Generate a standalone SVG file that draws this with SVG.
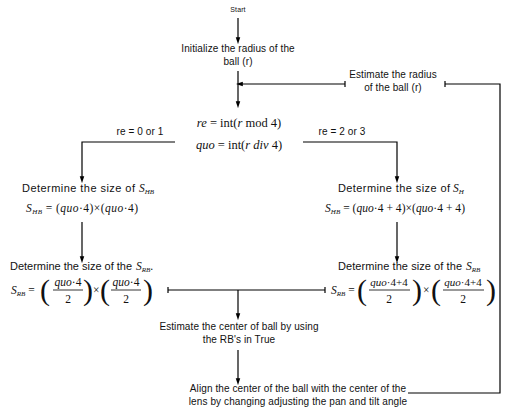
<svg xmlns="http://www.w3.org/2000/svg" width="505" height="414" viewBox="0 0 505 414">
<defs>
<marker id="arr" markerUnits="userSpaceOnUse" markerWidth="7" markerHeight="11" refX="6" refY="3.5" orient="auto" viewBox="0 0 11 7">
<path d="M0,0 L11,3.5 L0,7 Z" fill="#000"/>
</marker>
</defs>
<style>
.t{font-family:"Liberation Sans",Arial,sans-serif;font-size:10px;letter-spacing:0.1px;fill:#111;text-anchor:middle}
.h{font-family:"Liberation Sans",Arial,sans-serif;font-size:11px;fill:#111}
.m{font-family:"Liberation Serif","Times New Roman",serif;font-size:11.5px;fill:#111}
.i{font-style:italic}
.sub{font-size:7px;font-style:italic}
.p{font-family:"Liberation Serif","Times New Roman",serif;font-size:30px;fill:#111}
.ln{stroke:#000;stroke-width:1.2;fill:none}
.fr{stroke:#000;stroke-width:0.8}
.a{marker-end:url(#arr)}
</style>
<rect width="505" height="414" fill="#fff"/>

<g id="start"><text class="t" x="238" y="12" style="font-size:7px">Start</text></g>
<g id="init"><text class="t" x="238" y="52">Initialize the radius of the</text><text class="t" x="238" y="65">ball (r)</text></g>
<g id="estimate-radius"><text class="t" x="393" y="78">Estimate the radius</text><text class="t" x="393" y="91">of the ball (r)</text></g>
<g id="mod">
<text class="m" x="239" y="127" text-anchor="middle" style="font-size:12.5px"><tspan class="i">re</tspan> = int(<tspan class="i">r</tspan> mod 4)</text>
<text class="m" x="239" y="149" text-anchor="middle" style="font-size:12.5px"><tspan class="i">quo</tspan> = int(<tspan class="i">r div</tspan> 4)</text>
</g>
<g id="label-left"><text class="t" x="140" y="135">re = 0 or 1</text></g>
<g id="label-right"><text class="t" x="342" y="135">re = 2 or 3</text></g>

<g id="hb-left">
<text class="h" x="22" y="192" textLength="113" lengthAdjust="spacing">Determine the size of</text>
<text class="m" x="139" y="192"><tspan class="i">S</tspan><tspan class="sub" dy="2">HB</tspan></text>
<text class="m" x="26" y="212" textLength="112" lengthAdjust="spacing"><tspan class="i">S</tspan><tspan class="sub" dy="2">HB</tspan><tspan dy="-2"> = (</tspan><tspan class="i">quo</tspan>·4)×(<tspan class="i">quo</tspan>·4)</text>
</g>
<g id="hb-right">
<text class="h" x="338" y="192" textLength="112" lengthAdjust="spacing">Determine the size of</text>
<text class="m" x="453" y="192"><tspan class="i">S</tspan><tspan class="sub" dy="2">H</tspan></text>
<text class="m" x="325" y="212" textLength="140" lengthAdjust="spacing"><tspan class="i">S</tspan><tspan class="sub" dy="2">HB</tspan><tspan dy="-2"> = (</tspan><tspan class="i">quo</tspan>·4 + 4)×(<tspan class="i">quo</tspan>·4 + 4)</text>
</g>

<g id="rb-left">
<text class="h" x="10" y="270" textLength="122" lengthAdjust="spacing">Determine the size of the</text>
<text class="m" x="136" y="270"><tspan class="i">S</tspan><tspan class="sub" dy="2">RB</tspan><tspan dy="-2">.</tspan></text>
<text class="m" x="11" y="294"><tspan class="i">S</tspan><tspan class="sub" dy="2">RB</tspan><tspan dy="-2"> =</tspan></text>
<text class="p" x="40" y="300">(</text>
<text class="m" x="68" y="286" text-anchor="middle"><tspan class="i">quo</tspan>·4</text>
<line class="fr" x1="53" y1="290" x2="83" y2="290"/>
<text class="m" x="68" y="303" text-anchor="middle">2</text>
<text class="p" x="83" y="300">)</text>
<text class="m" x="93" y="294">×</text>
<text class="p" x="100" y="300">(</text>
<text class="m" x="126" y="286" text-anchor="middle"><tspan class="i">quo</tspan>·4</text>
<line class="fr" x1="111" y1="290" x2="141" y2="290"/>
<text class="m" x="126" y="303" text-anchor="middle">2</text>
<text class="p" x="143" y="300">)</text>
</g>
<g id="rb-right">
<text class="h" x="338" y="270" textLength="124" lengthAdjust="spacing">Determine the size of the</text>
<text class="m" x="466" y="270"><tspan class="i">S</tspan><tspan class="sub" dy="2">RB</tspan></text>
<text class="m" x="331" y="294"><tspan class="i">S</tspan><tspan class="sub" dy="2">RB</tspan><tspan dy="-2"> =</tspan></text>
<text class="p" x="357" y="300">(</text>
<text class="m" x="389" y="286" text-anchor="middle" style="font-size:11px"><tspan class="i">quo</tspan>·4+4</text>
<line class="fr" x1="369" y1="290" x2="410" y2="290"/>
<text class="m" x="389" y="303" text-anchor="middle">2</text>
<text class="p" x="412" y="300">)</text>
<text class="m" x="423" y="294">×</text>
<text class="p" x="431" y="300">(</text>
<text class="m" x="463" y="286" text-anchor="middle" style="font-size:11px"><tspan class="i">quo</tspan>·4+4</text>
<line class="fr" x1="443" y1="290" x2="484" y2="290"/>
<text class="m" x="463" y="303" text-anchor="middle">2</text>
<text class="p" x="486" y="300">)</text>
</g>

<g id="estimate-center"><text class="t" x="239" y="330">Estimate the center of ball by using</text><text class="t" x="239" y="343">the RB's in True</text></g>
<g id="align"><text class="t" x="298" y="392">Align the center of the ball with the center of the</text><text class="t" x="298" y="405">lens by changing adjusting the pan and tilt angle</text></g>

<g id="connectors">
<line class="ln a" x1="238" y1="18" x2="238" y2="41"/>
<line class="ln a" x1="238" y1="71" x2="238" y2="105"/>
<line class="ln a" x1="345" y1="84" x2="239" y2="84"/>
<line class="ln" x1="345" y1="81" x2="345" y2="87"/>
<polyline class="ln" points="445,84 500,84 500,393 408,393"/>
<line class="ln" x1="445" y1="81" x2="445" y2="87"/>
<polyline class="ln a" points="175,142 82,142 82,180"/>
<polyline class="ln a" points="303,142 397,142 397,180"/>
<line class="ln a" x1="82" y1="222" x2="82" y2="260"/>
<line class="ln a" x1="397" y1="222" x2="397" y2="260"/>
<line class="ln" x1="168" y1="290" x2="325" y2="290"/>
<line class="ln" x1="168" y1="287" x2="168" y2="293"/>
<line class="ln" x1="325" y1="287" x2="325" y2="293"/>
<line class="ln a" x1="238" y1="290" x2="238" y2="317"/>
<line class="ln a" x1="238" y1="350" x2="238" y2="382"/>
</g>
</svg>
